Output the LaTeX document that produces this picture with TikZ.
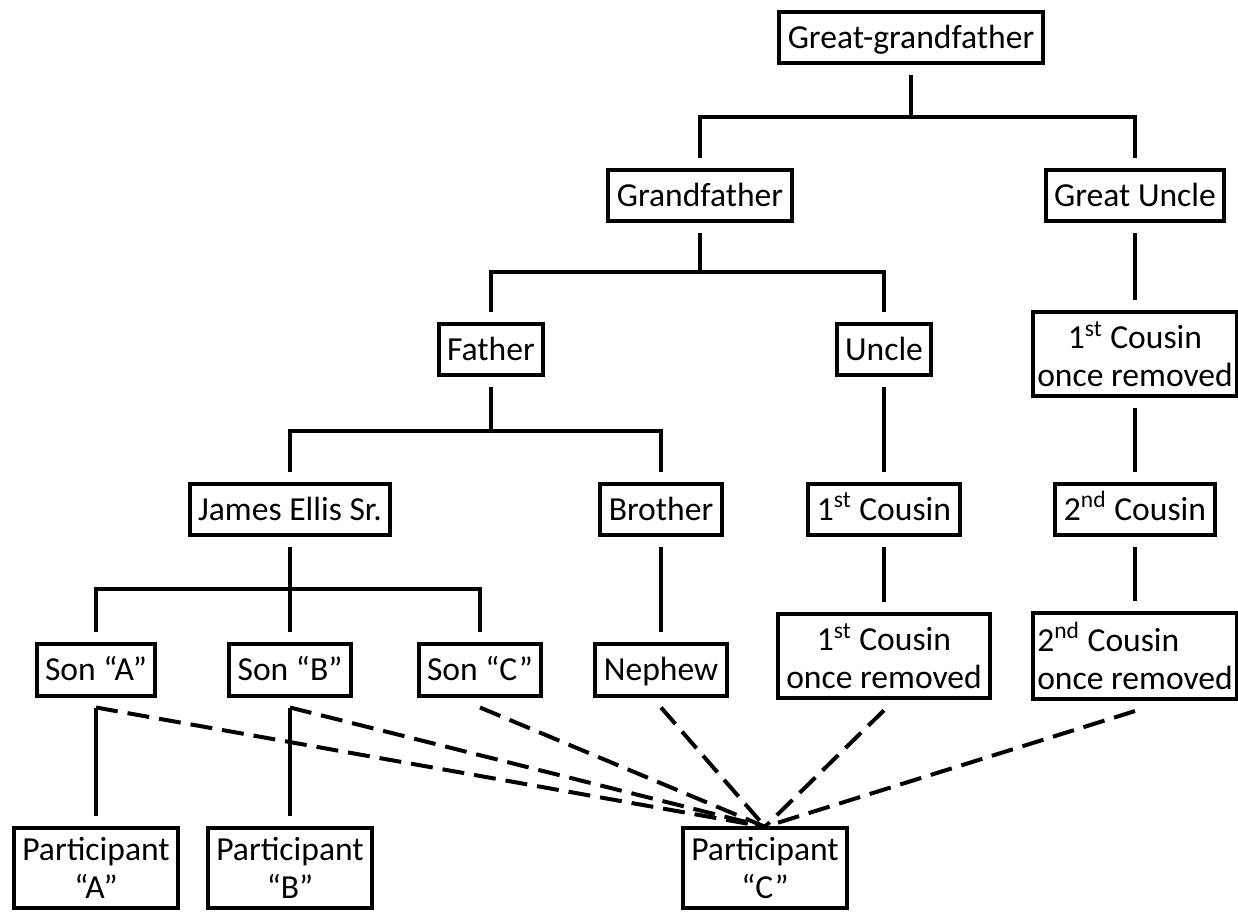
\documentclass[tikz,border=0pt]{standalone}
\usepackage{fontspec}
\setmainfont{Carlito}
\usepackage{tikz}

\begin{document}
\begin{tikzpicture}[x=0.5pt,y=-0.5pt,
	person/.style={draw,line width=2pt,inner xsep=4.25pt,inner ysep=4.75pt,minimum height=25.5pt,outer sep=6pt,align=center,font=\fontsize{16.8}{19}\selectfont},
	single/.style={person,text height=12.75pt,text depth=2.25pt},
	link/.style={line width=2pt},
	guess/.style={line width=2pt,dash pattern=on 11pt off 5pt}]
	\useasboundingbox (0,0) rectangle (1238,914);
	\node[single] (ggf) at (911,38) {Great-grandfather};
	\node[single] (gf) at (700,196) {Grandfather};
	\node[single] (gu) at (1135,196) {Great Uncle};
	\node[single] (father) at (491,350) {Father};
	\node[single] (uncle) at (884,350) {Uncle};
	\node[person,inner xsep=2pt] (cousR) at (1135,354) {1\textsuperscript{st} Cousin\\once removed};
	\node[single] (james) at (290,510) {James Ellis Sr.};
	\node[single] (brother) at (661,510) {Brother};
	\node[single] (cous1) at (884,510) {1\textsuperscript{st} Cousin};
	\node[single] (cous2) at (1135,510) {2\textsuperscript{nd} Cousin};
	\node[single] (sonA) at (96,670) {Son “A”};
	\node[single] (sonB) at (290,670) {Son “B”};
	\node[single] (sonC) at (480,670) {Son “C”};
	\node[single] (nephew) at (661,670) {Nephew};
	\node[person] (cousM) at (884,656) {1\textsuperscript{st} Cousin\\once removed};
	\node[person,inner xsep=2pt,align=left] (cous2R) at (1135,656) {2\textsuperscript{nd} Cousin\\once removed};
	\node[person] (partA) at (96,868) {Participant\\“A”};
	\node[person] (partB) at (290,868) {Participant\\“B”};
	\node[person] (partC) at (765,868) {Participant\\“C”};
	\coordinate (b1) at (0,117);
	\coordinate (b2) at (0,272);
	\coordinate (b3) at (0,431);
	\coordinate (b4) at (0,589);
	\path (partC.north) ++(0,11) coordinate (meet);
	\draw[link] (ggf.south) -- (ggf |- b1) (gf.north) |- (b1 -| gu) -- (gu.north);
	\draw[link] (gf.south) -- (gf |- b2) (father.north) |- (b2 -| uncle) -- (uncle.north);
	\draw[link] (father.south) -- (father |- b3) (james.north) |- (b3 -| brother) -- (brother.north);
	\draw[link] (james.south) -- (sonB.north) (sonA.north) |- (b4 -| sonC) -- (sonC.north);
	\draw[link] (gu.south) -- (cousR.north);
	\draw[link] (cousR.south) -- (cous2.north);
	\draw[link] (cous2.south) -- (cous2R.north);
	\draw[link] (uncle.south) -- (cous1.north);
	\draw[link] (cous1.south) -- (cousM.north);
	\draw[link] (brother.south) -- (nephew.north);
	\draw[link] (sonA.south) -- (partA.north);
	\draw[link] (sonB.south) -- (partB.north);
	\draw[guess] (sonA.south) -- (meet);
	\draw[guess] (sonB.south) -- (meet);
	\draw[guess] (sonC.south) -- (meet);
	\draw[guess] (nephew.south) -- (meet);
	\draw[guess] (cousM.south) -- (meet);
	\draw[guess] (cous2R.south) -- (meet);
\end{tikzpicture}
\end{document}
